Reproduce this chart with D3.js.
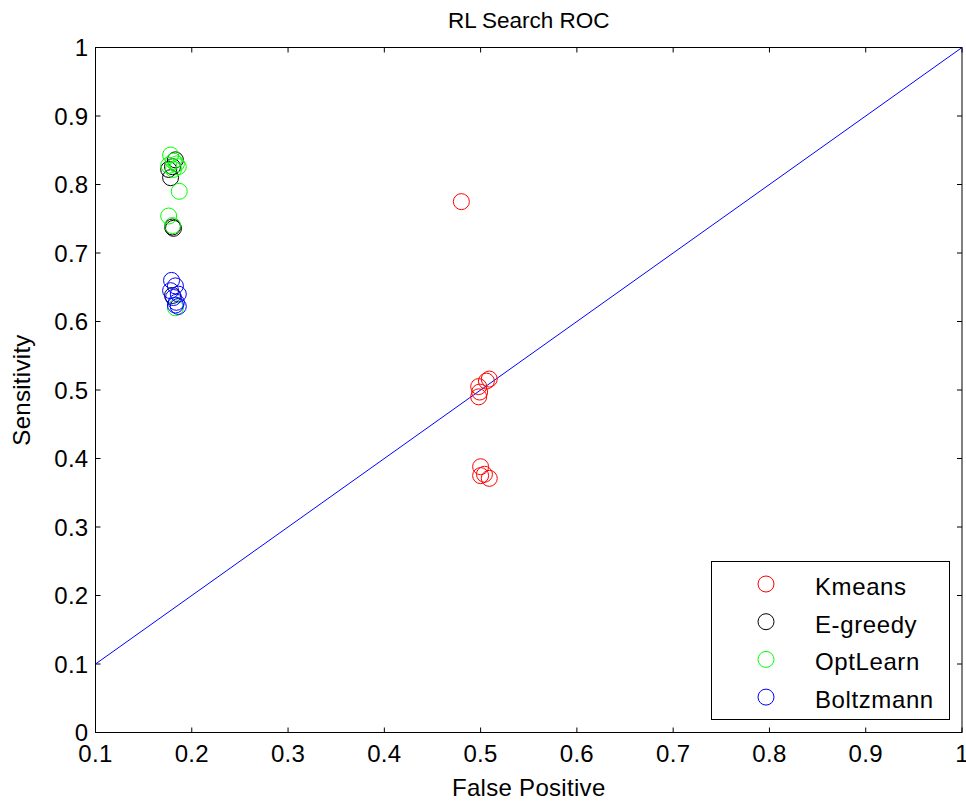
<!DOCTYPE html>
<html><head><meta charset="utf-8">
<script src="https://cdn.jsdelivr.net/npm/d3@7"></script>
<style>body{margin:0;background:#fff}svg{display:block}text{font-family:"Liberation Sans",Arial,sans-serif;fill:#000}</style>
</head><body>
<script>
const seriesNames = ["Kmeans","E-greedy","OptLearn","Boltzmann"];
const seriesColors = ["#ff0000","#000000","#00ff00","#0000ff"];
const kmeansFP = [0.480,0.509,0.506,0.498,0.499,0.498,0.500,0.500,0.504,0.509];
const kmeansSens = [0.775,0.516,0.513,0.505,0.497,0.490,0.388,0.375,0.377,0.371];
const egreedyFP = [0.183,0.180,0.176,0.178,0.180,0.181,0.180];
const egreedySens = [0.836,0.826,0.822,0.810,0.738,0.736,0.638];
const optlearnFP = [0.178,0.181,0.184,0.176,0.186,0.181,0.187,0.176,0.180,0.183];
const optlearnSens = [0.843,0.834,0.830,0.828,0.826,0.822,0.790,0.754,0.740,0.620];
const boltzFP = [0.179,0.183,0.178,0.186,0.181,0.184,0.183,0.186];
const boltzSens = [0.660,0.652,0.645,0.640,0.635,0.628,0.624,0.622];
const xTicks = [0.1,0.2,0.3,0.4,0.5,0.6,0.7,0.8,0.9,1];
const yTicks = [0,0.1,0.2,0.3,0.4,0.5,0.6,0.7,0.8,0.9,1];
const refLine = [[0.1,0.1],[1,1]];

const W=966,H=801;
const m={l:95.5,r:4,t:47.5,b:68.5};
const svg=d3.select("body").append("svg").attr("width",W).attr("height",H);
const x=d3.scaleLinear().domain([0.1,1]).range([m.l,W-m.r]);
const y=d3.scaleLinear().domain([0,1]).range([H-m.b,m.t]);
const fmt=d=>d===1?"1":(d===0?"0":d3.format(".1f")(d));

svg.append("rect").attr("x",m.l).attr("y",m.t).attr("width",x(1)-m.l).attr("height",y(0)-m.t)
  .attr("fill","none").attr("stroke","#000").attr("stroke-width",1);

const tl=5;
const g=svg.append("g");
xTicks.forEach(t=>{
  g.append("line").attr("x1",x(t)).attr("x2",x(t)).attr("y1",y(0)).attr("y2",y(0)-tl).attr("stroke","#000");
  g.append("line").attr("x1",x(t)).attr("x2",x(t)).attr("y1",y(1)).attr("y2",y(1)+tl).attr("stroke","#000");
});
yTicks.forEach(t=>{
  g.append("line").attr("x1",x(0.1)).attr("x2",x(0.1)+tl).attr("y1",y(t)).attr("y2",y(t)).attr("stroke","#000");
  g.append("line").attr("x1",x(1)).attr("x2",x(1)-tl).attr("y1",y(t)).attr("y2",y(t)).attr("stroke","#000");
});
const fs=24, ls="0.3px";
svg.append("g").selectAll("text").data(xTicks).join("text")
  .attr("x",d=>x(d)).attr("y",y(0)+29).attr("text-anchor","middle").attr("font-size",fs).attr("letter-spacing",ls).text(fmt);
svg.append("g").selectAll("text").data(yTicks).join("text")
  .attr("x",x(0.1)-7).attr("y",d=>y(d)+8.5).attr("text-anchor","end").attr("font-size",fs).attr("letter-spacing",ls).text(fmt);

svg.append("path").datum(refLine).attr("d",d3.line().x(d=>x(d[0])).y(d=>y(d[1])))
  .attr("stroke","#0000ff").attr("stroke-width",1).attr("fill","none");

const series=[
  {fp:kmeansFP,s:kmeansSens},
  {fp:egreedyFP,s:egreedySens},
  {fp:optlearnFP,s:optlearnSens},
  {fp:boltzFP,s:boltzSens}
];
series.forEach((se,i)=>{
  svg.append("g").selectAll("circle").data(se.fp.map((v,j)=>[v,se.s[j]])).join("circle")
    .attr("cx",d=>x(d[0])).attr("cy",d=>y(d[1])).attr("r",8)
    .attr("fill","none").attr("stroke",seriesColors[i]).attr("stroke-width",1);
});

svg.append("text").attr("x",(m.l+W-m.r)/2).attr("y",28).attr("text-anchor","middle").attr("font-size",22.5).text("RL Search ROC");
svg.append("text").attr("x",(m.l+W-m.r)/2).attr("y",796).attr("text-anchor","middle").attr("font-size",fs).attr("letter-spacing",ls).text("False Positive");
svg.append("text").attr("transform",`translate(30,${(m.t+H-m.b)/2}) rotate(-90)`).attr("text-anchor","middle").attr("font-size",fs).attr("letter-spacing",ls).text("Sensitivity");

const lg=svg.append("g");
lg.append("rect").attr("x",711.5).attr("y",561.5).attr("width",238).attr("height",158).attr("fill","#fff").attr("stroke","#000");
seriesNames.forEach((n,i)=>{
  const yy=584+i*37.7;
  lg.append("circle").attr("cx",766).attr("cy",yy).attr("r",8).attr("fill","none").attr("stroke",seriesColors[i]);
  lg.append("text").attr("x",815).attr("y",yy+11).attr("font-size",fs).attr("letter-spacing","0.6px").text(n);
});
</script>
</body></html>
